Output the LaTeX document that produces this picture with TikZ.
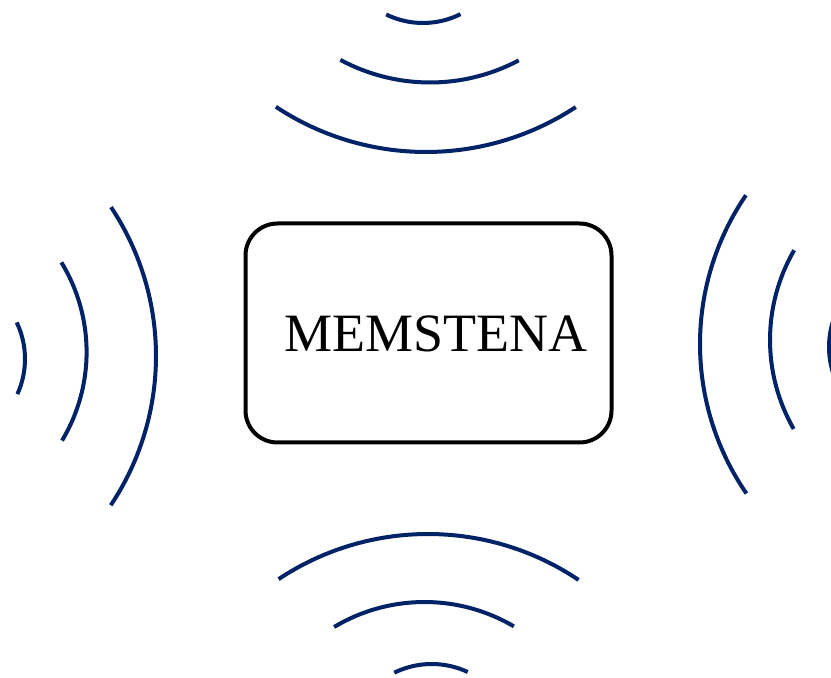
\documentclass[tikz,border=0pt]{standalone}
\usepackage{fontspec}
\setmainfont{Liberation Serif}
\definecolor{wavenavy}{RGB}{0,34,102}
\begin{document}
\begin{tikzpicture}[x=1pt,y=1pt,
  wave/.style={draw=wavenavy,line width=4pt},
  boxstyle/.style={draw=black,line width=4pt,rounded corners=32pt,minimum width=366pt,minimum height=219pt,inner sep=0pt},
  labelstyle/.style={font=\fontsize{54}{60}\selectfont,inner sep=0pt}]
\useasboundingbox (0,0) rectangle (831,678);
\node[boxstyle] (box) at (428.5,345) {};
\node[labelstyle,anchor=base] (lbl) at (436,326.3) {MEMSTENA};
% top arcs
\draw[wave] (423,739) ++(244:84pt) arc[start angle=244,end angle=296.5,radius=84pt];
\draw[wave] (430,784.5) ++(241.7:189pt) arc[start angle=241.7,end angle=298,radius=189pt];
\draw[wave] (426,798) ++(236.5:272pt) arc[start angle=236.5,end angle=303.4,radius=272pt];
% bottom arcs
\draw[wave] (428,-126) ++(123.6:270pt) arc[start angle=123.6,end angle=56.1,radius=270pt];
\draw[wave] (424.5,-100) ++(120.9:176pt) arc[start angle=120.9,end angle=59.5,radius=176pt];
\draw[wave] (431.7,-71) ++(116.1:85pt) arc[start angle=116.1,end angle=64.9,radius=85pt];
% left arcs
\draw[wave] (-60,319) ++(25.5:85pt) arc[start angle=25.5,end angle=-24.4,radius=85pt];
\draw[wave] (-85.4,326) ++(31.4:172pt) arc[start angle=31.4,end angle=-31,radius=172pt];
\draw[wave] (-113,322) ++(33.6:269pt) arc[start angle=33.6,end angle=-33.7,radius=269pt];
% right arcs
\draw[wave] (964,334) ++(145.7:264pt) arc[start angle=145.7,end angle=214.5,radius=264pt];
\draw[wave] (949,338) ++(149.9:179pt) arc[start angle=149.9,end angle=209.8,radius=179pt];
\draw[wave] (914,331) ++(155:85pt) arc[start angle=155,end angle=205,radius=85pt];
\end{tikzpicture}
\end{document}
